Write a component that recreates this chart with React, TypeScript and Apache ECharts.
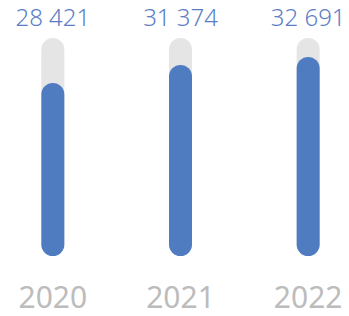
import React, { useEffect, useRef } from "react";
import * as echarts from "echarts";

const categories = ["2020", "2021", "2022"];
const values = [28421, 31374, 32691];
const axisMax = 35800;

const fmt = (v: number) => {
  const s = String(v);
  return s.replace(/\B(?=(\d{3})+(?!\d))/g, " ");
};

export default function App() {
  const ref = useRef<HTMLDivElement>(null);
  useEffect(() => {
    document.body.style.margin = "0";
    document.body.style.overflow = "hidden";
    const chart = echarts.init(ref.current!, null, { renderer: "svg" });
    chart.setOption({
      animation: false,
      grid: { left: 0, right: 0, top: 38, bottom: 60 },
      xAxis: [
        {
          type: "category",
          data: categories,
          position: "bottom",
          axisLine: { show: false },
          axisTick: { show: false },
          axisLabel: {
            margin: 25,
            fontSize: 30,
            color: "#bcbcbc",
            fontFamily: "Noto Sans",
          },
        },
        {
          type: "category",
          data: values.map(fmt),
          position: "top",
          axisLine: { show: false },
          axisTick: { show: false },
          axisLabel: {
            margin: 10,
            fontSize: 24,
            fontWeight: 300,
            color: "#5a7ec6",
            fontFamily: "Noto Sans",
          },
        },
      ],
      yAxis: {
        type: "value",
        min: 0,
        max: axisMax,
        show: false,
        splitLine: { show: false },
      },
      series: [
        {
          type: "bar",
          data: values,
          barWidth: 23,
          itemStyle: { color: "#4f7bc0", borderRadius: 11.5 },
          showBackground: true,
          backgroundStyle: { color: "#e5e5e5", borderRadius: 11.5 },
        },
      ],
    });
    return () => chart.dispose();
  }, []);
  return (
    <div style={{ position: "relative", width: 349, height: 316, overflow: "hidden" }}>
      <div
        ref={ref}
        style={{ position: "absolute", left: -10.75, top: 0, width: 382.5, height: 316 }}
      />
    </div>
  );
}
